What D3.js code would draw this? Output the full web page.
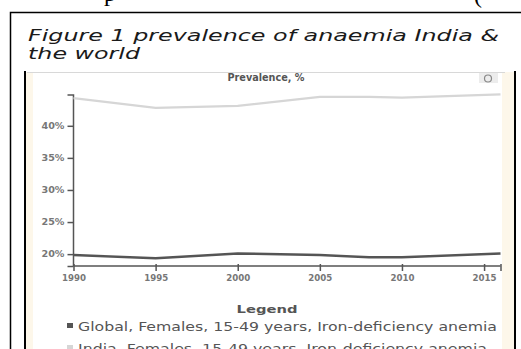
<!DOCTYPE html>
<html>
<head>
<meta charset="utf-8">
<script src="https://cdn.jsdelivr.net/npm/d3@7"></script>
<style>
  body { margin: 0; background: #fff; }
  svg { display: block; }
  text { font-family: "DejaVu Sans", Verdana, sans-serif; }
</style>
</head>
<body>
<svg id="chart" width="521" height="349"></svg>
<script>
// data
const years = [1990, 1995, 2000, 2005, 2008, 2010, 2016];
const globalVals = [19.85, 19.35, 20.1, 19.85, 19.5, 19.5, 20.1];
const indiaVals = [44.3, 42.8, 43.1, 44.5, 44.5, 44.4, 44.9];
const xTicks = [1990, 1995, 2000, 2005, 2010, 2015];
const yTicks = [20, 25, 30, 35, 40];
const seriesNames = [
  "Global, Females, 15-49 years, Iron-deficiency anemia",
  "India, Females, 15-49 years, Iron-deficiency anemia"
];
const seriesColors = ["#555555", "#d6d6d6"];

const svg = d3.select("#chart");
const width = +svg.attr("width"),
      height = +svg.attr("height");

// bits of the page text above, cut off
svg.append("text").attr("x", 104).attr("y", 1)
  .style("font-family", "Liberation Serif").style("font-size", "24px").text("p");
svg.append("text").attr("x", 474).attr("y", 3)
  .style("font-family", "Liberation Serif").style("font-size", "24px").text("(");

// outer box of the figure
svg.append("rect")
  .attr("x", 10.5).attr("y", 12.5)
  .attr("width", 540).attr("height", 400)
  .attr("fill", "none").attr("stroke", "#000").attr("stroke-width", 1.5);

svg.append("text")
  .attr("x", 28).attr("y", 41)
  .attr("textLength", 471).attr("lengthAdjust", "spacingAndGlyphs")
  .style("font-size", "16px").style("font-style", "italic").attr("fill", "#1a1a1a")
  .text("Figure 1 prevalence of anaemia India &");
svg.append("text")
  .attr("x", 28).attr("y", 59)
  .attr("textLength", 112).attr("lengthAdjust", "spacingAndGlyphs")
  .style("font-size", "16px").style("font-style", "italic").attr("fill", "#1a1a1a")
  .text("the world");

// pasted chart image frame
svg.append("rect").attr("x", 26).attr("y", 72).attr("width", 488).attr("height", 290).attr("fill", "#fdf7ea");
svg.append("rect").attr("x", 33).attr("y", 72).attr("width", 469).attr("height", 290).attr("fill", "#fff");
svg.append("line").attr("x1", 27).attr("x2", 505).attr("y1", 72.5).attr("y2", 72.5)
  .attr("stroke", "#d8d8d8");
svg.append("line").attr("x1", 25).attr("x2", 25).attr("y1", 71).attr("y2", height)
  .attr("stroke", "#000").attr("stroke-width", 2);
svg.append("line").attr("x1", 515).attr("x2", 515).attr("y1", 71).attr("y2", height)
  .attr("stroke", "#000").attr("stroke-width", 2);

svg.append("text")
  .attr("x", 266).attr("y", 81).attr("text-anchor", "middle")
  .attr("textLength", 77).attr("lengthAdjust", "spacingAndGlyphs")
  .style("font-size", "10px").style("font-weight", "bold").attr("fill", "#555")
  .text("Prevalence, %");

// little icon top right
svg.append("rect").attr("x", 479).attr("y", 73).attr("width", 19).attr("height", 10).attr("fill", "#ececec");
svg.append("circle").attr("cx", 488).attr("cy", 78.5).attr("r", 3.5)
  .attr("fill", "none").attr("stroke", "#888").attr("stroke-width", 1.2);

const x = d3.scaleLinear().domain([1990, 2016]).range([73.5, 500.5]);
const y = d3.scaleLinear().domain([18.15, 44.8]).range([266, 95]);

const xAxis = svg.append("g")
  .attr("transform", `translate(0,${y.range()[0]})`)
  .call(d3.axisBottom(x).tickValues(xTicks.concat([2016])).tickSize(5).tickFormat(d => d === 2016 ? "" : d));
xAxis.select(".domain").attr("stroke", "#555").attr("stroke-width", 1.5).attr("d", `M${x(1990)},0H${x(2016)}`);
xAxis.selectAll(".tick line").attr("stroke", "#555").attr("stroke-width", 1.5).attr("y1", -2);
xAxis.selectAll(".tick text")
  .style("font-size", "8px").style("font-weight", "bold").attr("fill", "#777").attr("dy", "0.9em")
  .attr("textLength", 24).attr("lengthAdjust", "spacingAndGlyphs");

const yAxis = svg.append("g")
  .attr("transform", `translate(${x.range()[0]},0)`)
  .call(d3.axisLeft(y).tickValues(yTicks).tickSize(6).tickFormat(d => d + "%"));
yAxis.select(".domain").attr("stroke", "#555").attr("stroke-width", 1.5)
  .attr("d", `M-6,${y(44.8)}H0V${y.range()[0]}`);
yAxis.selectAll(".tick line").attr("stroke", "#555").attr("stroke-width", 1.5);
yAxis.selectAll(".tick text")
  .style("font-size", "8px").style("font-weight", "bold").attr("fill", "#777")
  .attr("textLength", 23).attr("lengthAdjust", "spacingAndGlyphs");
svg.append("line")
  .attr("x1", x.range()[0] - 6).attr("x2", x.range()[0])
  .attr("y1", y.range()[0] + 0.5).attr("y2", y.range()[0] + 0.5)
  .attr("stroke", "#555").attr("stroke-width", 1.5);

const line = d3.line()
  .x(d => x(d[0]))
  .y(d => y(d[1]));

[globalVals, indiaVals].forEach((vals, i) => {
  svg.append("path")
    .datum(years.map((yr, j) => [yr, vals[j]]))
    .attr("fill", "none")
    .attr("stroke", seriesColors[i])
    .attr("stroke-width", i === 0 ? 2.5 : 2.2)
    .attr("d", line);
});

// legend
svg.append("text")
  .attr("x", 267).attr("y", 313).attr("text-anchor", "middle")
  .attr("textLength", 61).attr("lengthAdjust", "spacingAndGlyphs")
  .style("font-size", "11px").style("font-weight", "bold").attr("fill", "#555")
  .text("Legend");

const legend = svg.append("g").attr("transform", "translate(67,0)");
seriesNames.forEach((name, i) => {
  const ly = 331 + i * 22;
  legend.append("rect")
    .attr("x", 0).attr("y", ly - 8).attr("width", 6).attr("height", 5)
    .attr("fill", seriesColors[i]);
  legend.append("text")
    .attr("x", 11).attr("y", ly)
    .attr("textLength", i === 0 ? 419 : 409).attr("lengthAdjust", "spacingAndGlyphs")
    .style("font-size", "12px").attr("fill", "#555")
    .text(name);
});
</script>
</body>
</html>
